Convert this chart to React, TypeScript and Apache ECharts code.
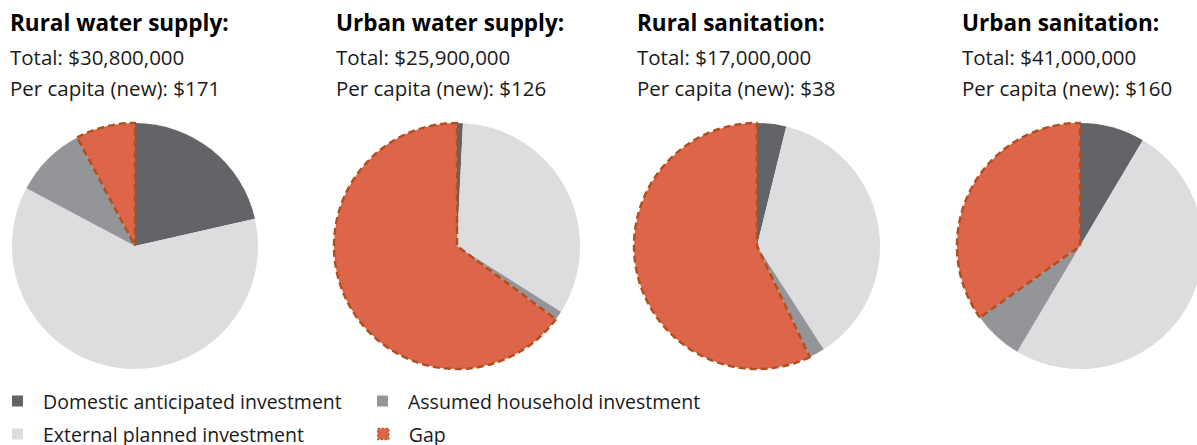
import React, { useEffect, useRef } from "react";
import * as echarts from "echarts";

// ---- data ----
const categories = [
  "Domestic anticipated investment",
  "External planned investment",
  "Assumed household investment",
  "Gap",
];
const regionTitles = ["Rural water supply:", "Urban water supply:", "Rural sanitation:", "Urban sanitation:"];
const totalLabels = ["Total: $30,800,000", "Total: $25,900,000", "Total: $17,000,000", "Total: $41,000,000"];
const perCapitaLabels = [
  "Per capita (new): $171",
  "Per capita (new): $126",
  "Per capita (new): $38",
  "Per capita (new): $160",
];
// values in $ millions, in the order of `categories`
const ruralWater = [6.6, 18.9, 2.9, 2.4];
const urbanWater = [0.2, 8.6, 0.3, 16.8];
const ruralSanitation = [0.65, 6.3, 0.35, 9.7];
const urbanSanitation = [3.5, 20.5, 2.7, 14.3];
const regionValues = [ruralWater, urbanWater, ruralSanitation, urbanSanitation];

// ---- styling / layout ----
const sliceColors = ["#636467", "#dcdddf", "#949598", "#dd664a"];
const gapBorder = "#b0501f";
const titleX = [10, 336, 637, 962];
const pieCenterX = [135, 457, 757, 1080];
const pieCenterY = 246;
const pieRadius = 123;
const FONT = "'Open Sans', 'Noto Sans', sans-serif";

const legendPos = [
  { left: 12, top: 391 },
  { left: 12, top: 424 },
  { left: 377, top: 391 },
  { left: 377, top: 424 },
];

function sliceStyle(i: number) {
  if (i === 3) {
    return {
      color: sliceColors[i],
      borderColor: gapBorder,
      borderWidth: 2.5,
      borderType: [7, 4],
    };
  }
  return { color: sliceColors[i], borderWidth: 0 };
}

export default function App() {
  const ref = useRef<HTMLDivElement>(null);

  useEffect(() => {
    document.body.style.margin = "0";
    if (!ref.current) return;
    const chart = echarts.init(ref.current, undefined, { renderer: "svg" });

    const graphics: any[] = [];
    regionTitles.forEach((t, i) => {
      graphics.push({
        type: "text",
        left: titleX[i],
        top: 11,
        style: { text: t, font: `bold 22.5px ${FONT}`, fill: "#000" },
      });
      graphics.push({
        type: "text",
        left: titleX[i],
        top: 46,
        style: { text: totalLabels[i], font: `20.5px ${FONT}`, fill: "#1a1a1a" },
      });
      graphics.push({
        type: "text",
        left: titleX[i],
        top: 77,
        style: { text: perCapitaLabels[i], font: `20.5px ${FONT}`, fill: "#1a1a1a" },
      });
    });

    const series = regionValues.map((vals, r) => ({
      type: "pie",
      name: regionTitles[r],
      center: [pieCenterX[r], pieCenterY],
      radius: pieRadius,
      startAngle: 90,
      clockwise: true,
      silent: true,
      label: { show: false },
      labelLine: { show: false },
      emphasis: { disabled: true },
      data: vals.map((v, i) => ({
        name: categories[i],
        value: v,
        itemStyle: sliceStyle(i),
      })),
    }));

    const legendOrder = [0, 1, 2, 3];
    const legends = legendOrder.map((ci, k) => ({
      show: true,
      data: [
        {
          name: categories[ci],
          itemStyle:
            ci === 3
              ? { color: sliceColors[3], borderColor: gapBorder, borderWidth: 1.5, borderType: [2, 2] }
              : { color: sliceColors[ci], borderWidth: 0 },
        },
      ],
      left: legendPos[k].left,
      top: legendPos[k].top,
      orient: "horizontal",
      padding: 0,
      icon: "rect",
      itemWidth: 11,
      itemHeight: 11,
      selectedMode: false,
      textStyle: {
        fontFamily: FONT,
        fontSize: 19.5,
        color: "#1a1a1a",
        lineHeight: 18,
        padding: [0, 0, 0, 15],
      },
    }));

    chart.setOption({
      animation: false,
      backgroundColor: "#ffffff",
      legend: legends,
      graphic: graphics,
      series,
    });

    return () => chart.dispose();
  }, []);

  return <div ref={ref} style={{ width: 1197, height: 445 }} />;
}
